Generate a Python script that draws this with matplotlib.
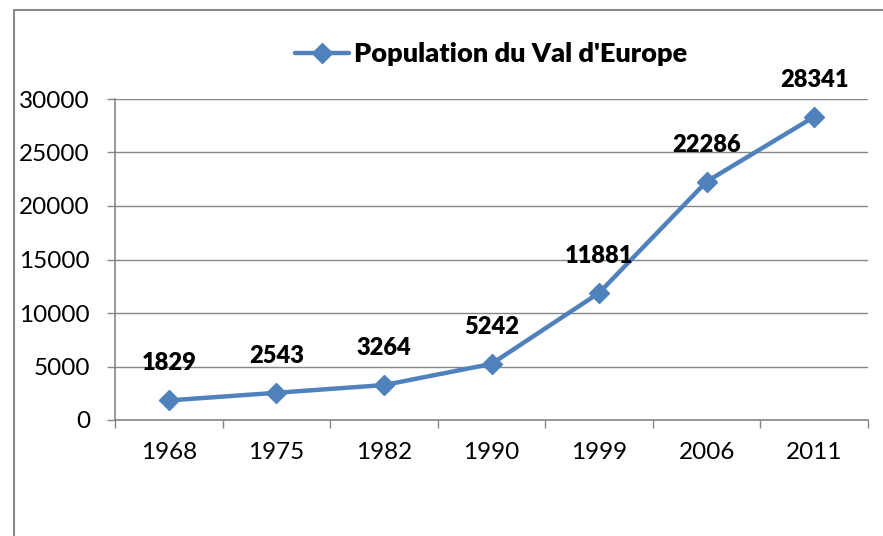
import matplotlib
matplotlib.use("Agg")
import matplotlib.pyplot as plt
from matplotlib.lines import Line2D
from matplotlib.ticker import FixedLocator

years = ["1968", "1975", "1982", "1990", "1999", "2006", "2011"]
population = [1829, 2543, 3264, 5242, 11881, 22286, 28341]
yticks = [0, 5000, 10000, 15000, 20000, 25000, 30000]
series_name = "Population du Val d'Europe"

plt.rcParams['font.family'] = ['Lato', 'DejaVu Sans']

W, H = 883, 536
fig = plt.figure(figsize=(W / 100, H / 100), dpi=100)
gray = '#868686'
blue = '#4F81BD'

ax = fig.add_axes([115 / W, 1 - 420 / H, (868 - 115) / W, (420 - 99) / H])
x = list(range(len(years)))
ax.plot(x, population, color=blue, lw=3.2, marker='D', markersize=10,
        markeredgecolor=blue, markerfacecolor=blue, label=series_name,
        solid_capstyle='round', zorder=3, clip_on=False)

for xi, v in zip(x, population):
    ax.annotate(str(v), (xi, v), xytext=(0, 37), textcoords='offset pixels',
                ha='center', va='center', fontsize=17, fontweight='heavy',
                color='black')

ax.set_xlim(-0.5, len(years) - 0.5)
ax.set_ylim(0, 30000)
ax.set_yticks(yticks)
ax.set_yticklabels([str(t) for t in yticks])
ax.set_xticks(x)
ax.set_xticklabels(years)
ax.xaxis.set_minor_locator(FixedLocator([i - 0.5 for i in range(len(years) + 1)]))

ax.tick_params(axis='y', length=6, width=1, color=gray, pad=12, labelsize=17.5)
ax.tick_params(axis='x', which='major', length=0, pad=16, labelsize=17.5)
ax.tick_params(axis='x', which='minor', length=6, width=1, color=gray)

ax.grid(axis='y', color=gray, lw=1)
ax.set_axisbelow(True)
for s in ['top', 'right']:
    ax.spines[s].set_visible(False)
for s in ['left', 'bottom']:
    ax.spines[s].set_color(gray)
    ax.spines[s].set_linewidth(1.2)

ax.legend(loc='center', bbox_to_anchor=(491 / W, 1 - 54 / H),
          bbox_transform=fig.transFigure, frameon=False, handlelength=2.0,
          handletextpad=0.2, prop={'weight': 'heavy', 'size': 19.5})

# chart border (only left and top visible within the image)
fig.add_artist(Line2D([14 / W, 14 / W, 1.0], [0.0, 1 - 10 / H, 1 - 10 / H],
                      transform=fig.transFigure, color='#8a8a8a', lw=1.5))

fig.savefig('out.png', dpi=100)
